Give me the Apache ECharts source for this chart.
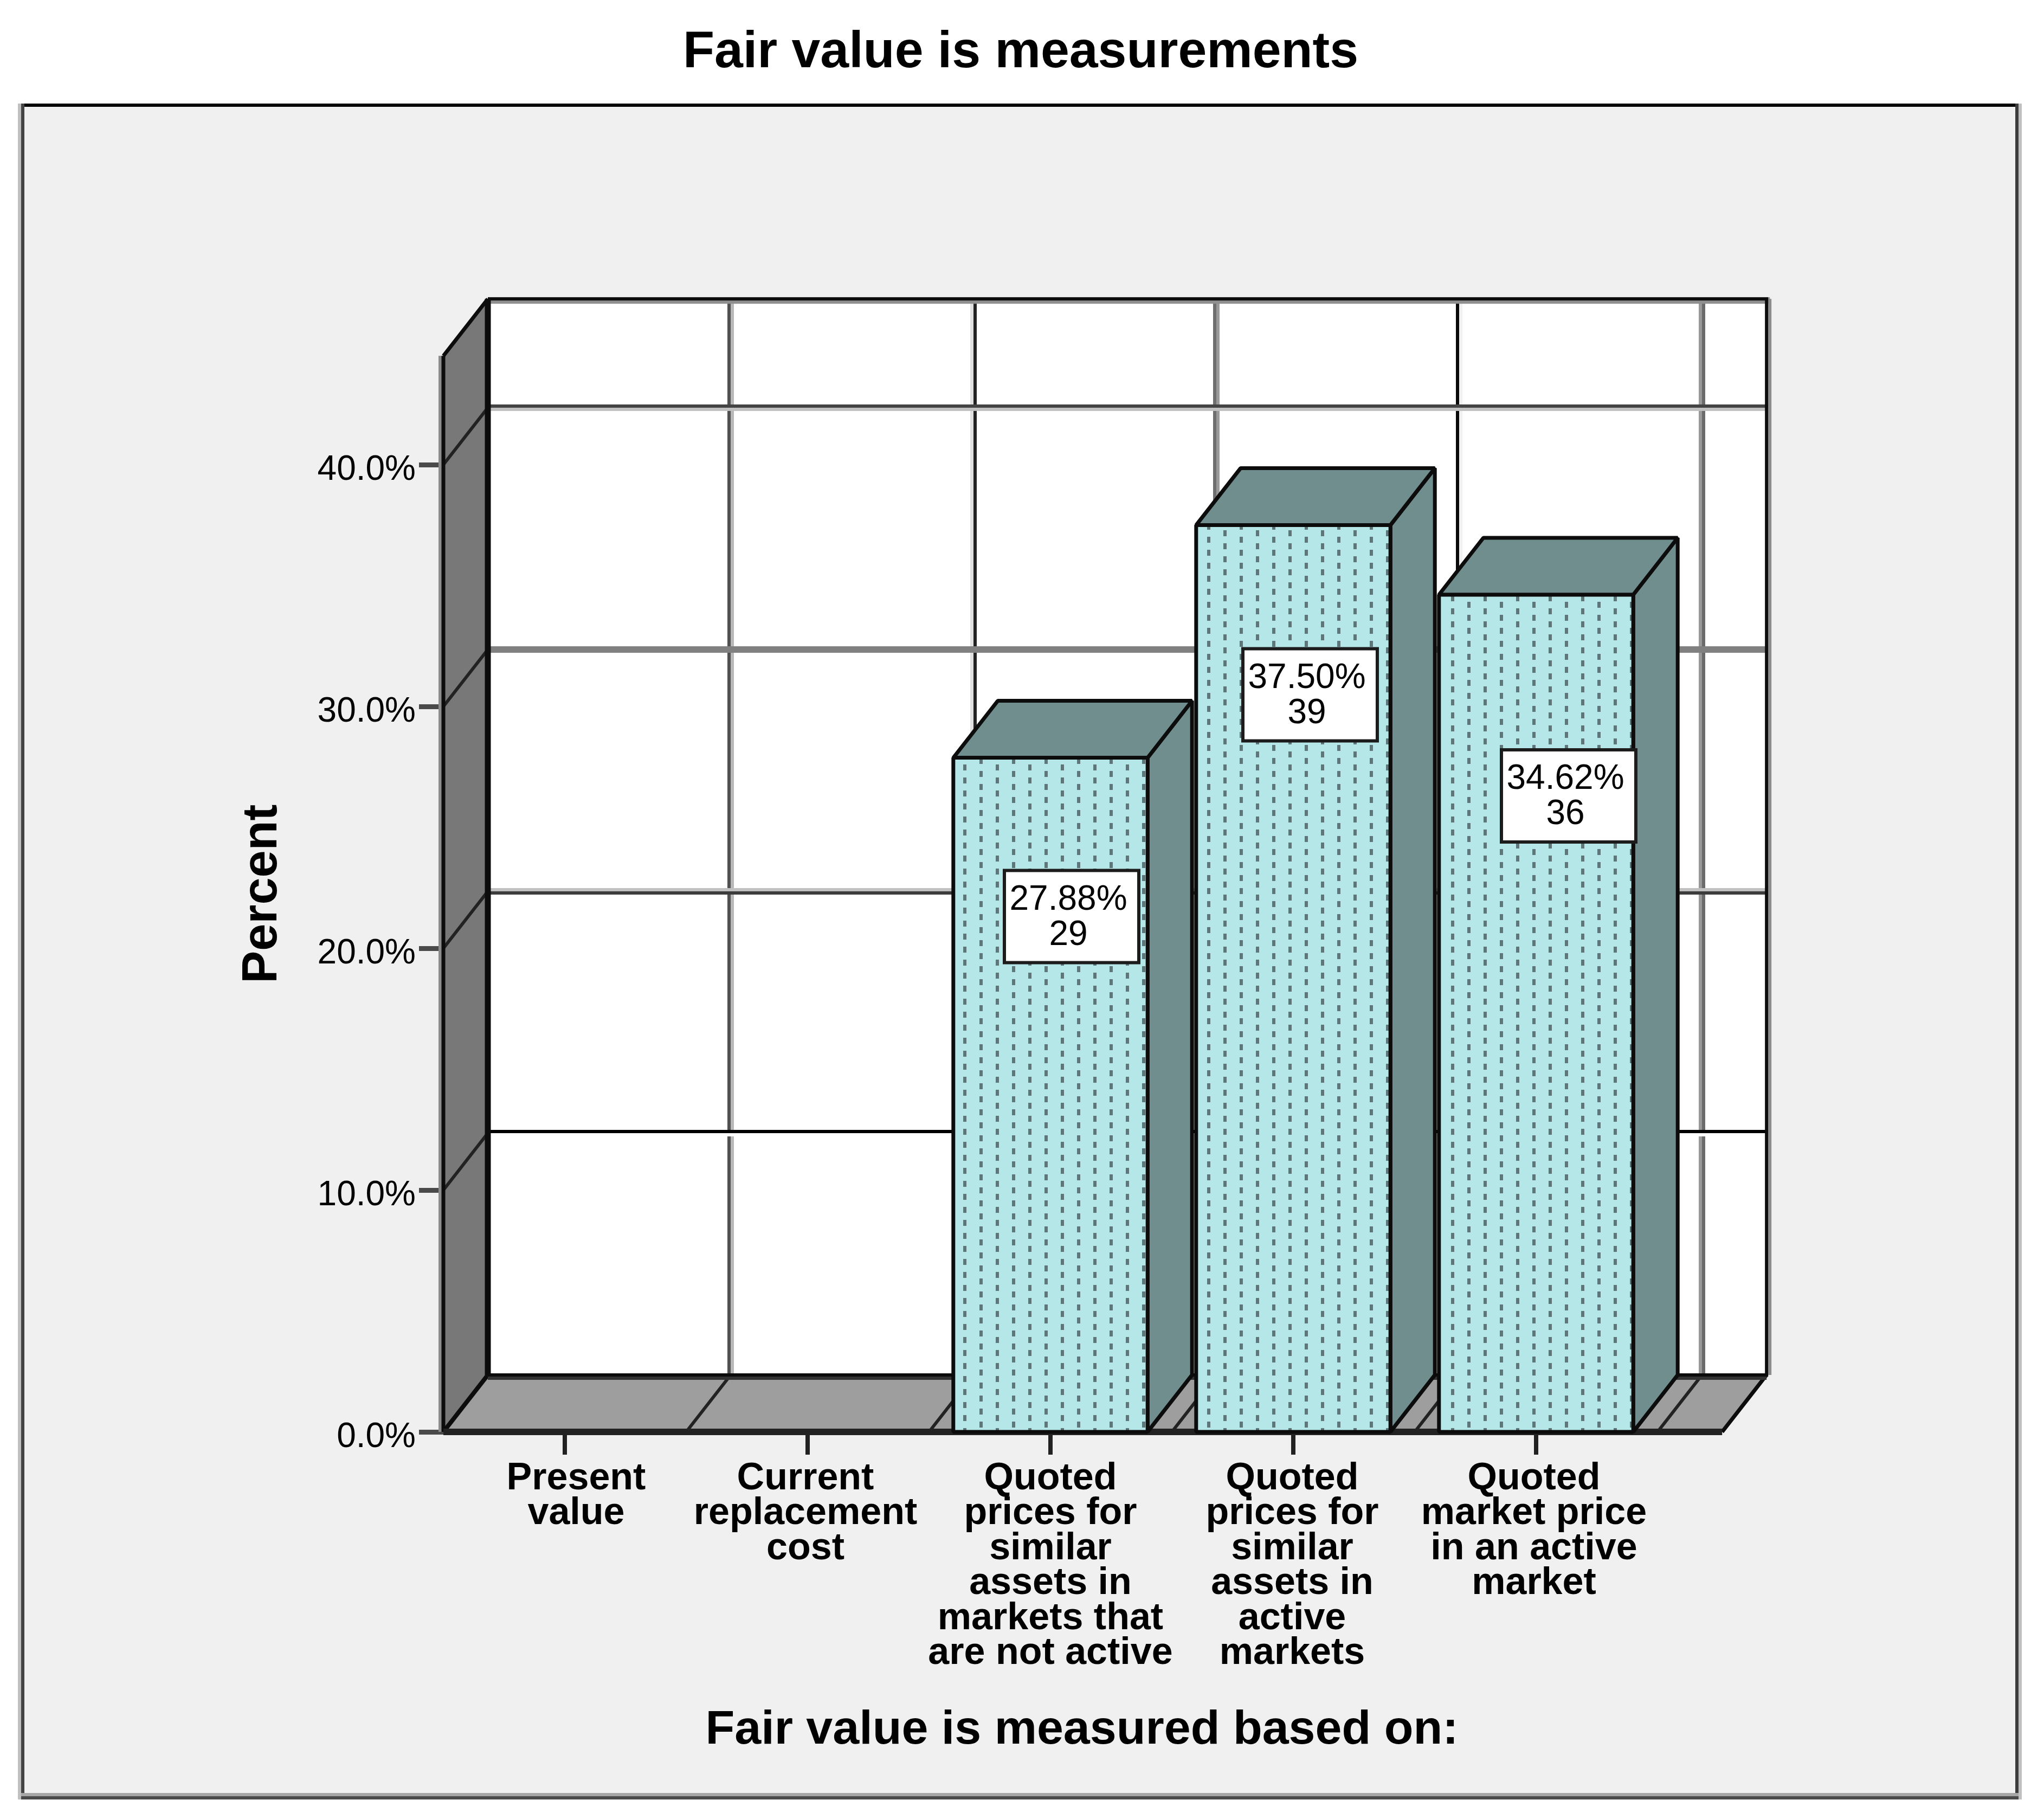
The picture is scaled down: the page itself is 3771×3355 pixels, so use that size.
<!DOCTYPE html>
<html>
<head>
<meta charset="utf-8">
<title>Fair value is measurements</title>
<script src="https://cdn.jsdelivr.net/npm/echarts@6/dist/echarts.min.js"></script>
<style>html,body{margin:0;padding:0;background:#fff}#c{width:3771px;height:3355px}</style>
</head>
<body>
<div id="c"></div>
<script>
// ---------- data ----------
const categories = [
  'Present\nvalue',
  'Current\nreplacement\ncost',
  'Quoted\nprices for\nsimilar\nassets in\nmarkets that\nare not active',
  'Quoted\nprices for\nsimilar\nassets in\nactive\nmarkets',
  'Quoted\nmarket price\nin an active\nmarket'
];
const percents = [0, 0, 27.88, 37.50, 34.62];
const counts = [0, 0, 29, 39, 36];
const yTicks = [0, 10, 20, 30, 40];
const chartTitle = 'Fair value is measurements';
const xAxisTitle = 'Fair value is measured based on:';
const yAxisTitle = 'Percent';

// ---------- layout and style ----------
const yMax = 44.5;
const DX = 82, DY = -105;          // depth of the pseudo 3D box
const tailBands = 0.266;           // the floor runs on past the last band
const barShare = 0.8;
const labelOffsets = {2: [39, 293], 3: [31, 313], 4: [60, 371]};
const xLabelPadding = [[0, 0, 0, 42], [0, 8, 0, 0], [0, 0, 0, 0], [0, 4, 0, 0], [0, 8, 0, 0]];
const hTones = {10: ['#000', '#fff'], 20: ['#c0c0c0', '#3c3c3c'], 30: ['#808080', '#808080'], 40: ['#444', '#c0c0c0']};
const vTones = [['#505050', '#b8b8b8'], ['#e0e0e0', '#222'], ['#6e6e6e', '#999'], ['#0a0a0a', '#f0f0f0'], ['#999', '#6a6a6a']];
const INK = '#0c0c0c', TEAL = '#718e8e';
const FONT = '"Liberation Sans", Arial, sans-serif';

function dotTile() {
  const t = document.createElement('canvas');
  t.width = 60; t.height = 24;
  const g = t.getContext('2d');
  g.fillStyle = '#b6e7e8'; g.fillRect(0, 0, 60, 24);
  g.fillStyle = '#5f7678';
  g.fillRect(7, 6, 6, 11);
  g.fillRect(37, 18, 6, 6); g.fillRect(37, 0, 6, 5);
  return t;
}
const tile = dotTile();

function seg(x1, y1, x2, y2, color, width) {
  return {type: 'line', shape: {x1, y1, x2, y2}, style: {stroke: color, lineWidth: width, fill: null}};
}
function poly(points, fill, stroke, width) {
  return {type: 'polygon', shape: {points}, style: {fill, stroke: stroke || null, lineWidth: width || 0, lineJoin: 'bevel'}};
}

function renderFrame(params, api) {
  const base = api.coord([0, 0]);
  const band = api.size([1, 0])[0];
  const x0 = base[0] - band / 2, y0 = base[1];
  const yTop = api.coord([0, yMax])[1];
  const xEnd = x0 + band * (categories.length + tailBands);
  const bx0 = x0 + DX, bx1 = xEnd + DX, by0 = y0 + DY, byT = yTop + DY;
  const c = [];
  c.push(poly([[bx0, byT], [bx1, byT], [bx1, by0], [bx0, by0]], '#fff'));
  c.push(poly([[x0, y0], [bx0, by0], [bx0, byT], [x0, yTop]], '#787878'));
  c.push(poly([[x0, y0], [bx0, by0], [bx1, by0], [xEnd, y0]], '#9e9e9e'));
  // vertical grid on the back wall and its diagonal on the floor
  for (let i = 1; i <= categories.length; i++) {
    const x = x0 + band * i;
    c.push(seg(x, y0, x + DX, by0, '#222', 6));
    const tone = vTones[i - 1];
    c.push(seg(x + DX - 3, byT, x + DX - 3, by0, tone[0], 6));
    c.push(seg(x + DX + 3, byT, x + DX + 3, by0, tone[1], 6));
  }
  // horizontal grid on the back wall and its diagonal on the side wall
  yTicks.forEach(function (t) {
    if (!t) return;
    const y = api.coord([0, t])[1];
    c.push(seg(x0, y, bx0, y + DY, '#222', 6));
    const tone = hTones[t];
    c.push(seg(bx0, y + DY - 3, bx1, y + DY - 3, tone[0], 6));
    c.push(seg(bx0, y + DY + 3, bx1, y + DY + 3, tone[1], 6));
  });
  // box outline
  c.push(seg(bx0, byT + 3, bx1 + 6, byT + 3, '#8f8f8f', 12));
  c.push(seg(bx0, byT, bx1 + 3, byT, INK, 6));
  c.push(seg(bx1 + 6, byT, bx1 + 6, by0, '#8c8c8c', 6));
  c.push(seg(bx1, byT, bx1, by0 + 3, INK, 6));
  c.push(seg(bx0, byT, bx0, by0, INK, 11));
  c.push(seg(x0 - 6, yTop, x0 - 6, y0, '#8c8c8c', 6));
  c.push(seg(x0, yTop, x0, y0, INK, 7));
  c.push(seg(x0, yTop, bx0, byT, INK, 7));
  c.push(seg(x0, y0, bx0, by0, INK, 8));
  c.push(seg(xEnd, y0, bx1, by0, INK, 7));
  c.push(seg(bx0, by0 + 3, bx1, by0 + 3, '#333', 12));
  c.push(seg(bx0, by0, bx1, by0, INK, 6));
  c.push(seg(x0, y0, xEnd, y0, '#222', 12));
  return {type: 'group', children: c};
}

function renderBar(params, api) {
  const idx = api.value(0), pct = api.value(1), n = api.value(2);
  if (!pct) return null;
  const top = api.coord([idx, pct]);
  const base = api.coord([idx, 0]);
  const w = api.size([1, 0])[0] * barShare;
  const xL = top[0] - w / 2, xR = top[0] + w / 2, yT = top[1], yB = base[1];
  const off = labelOffsets[idx];
  const cx = top[0] + off[0], cy = yT + off[1];
  const boxW = 248, boxH = 170;
  return {type: 'group', children: [
    poly([[xR, yB], [xR + DX, yB + DY], [xR + DX, yT + DY], [xR, yT]], TEAL, INK, 7),
    poly([[xL, yT], [xL + DX, yT + DY], [xR + DX, yT + DY], [xR, yT]], TEAL, INK, 7),
    poly([[xL, yB], [xL, yT], [xR, yT], [xR, yB]], {image: tile, repeat: 'repeat'}, INK, 7),
    {type: 'rect', shape: {x: cx - boxW / 2, y: cy - boxH / 2, width: boxW, height: boxH},
      style: {fill: '#fff', stroke: '#1c1c1c', lineWidth: 6}},
    {type: 'text', style: {x: cx - 6, y: cy + 2, text: pct.toFixed(2) + '%\n' + n, align: 'center', verticalAlign: 'middle',
      font: '64px ' + FONT, lineHeight: 65, fill: '#000'}}
  ]};
}

const panelEdges = [
  {x: 39, y: 191, w: 3685, h: 6, c: '#000'},
  {x: 33, y: 191, w: 6, h: 3128, c: '#c0c0c0'},
  {x: 39, y: 191, w: 6, h: 3128, c: '#444'},
  {x: 3718, y: 191, w: 6, h: 3128, c: '#3c3c3c'},
  {x: 3724, y: 191, w: 6, h: 3128, c: '#c0c0c0'},
  {x: 39, y: 3307, w: 3685, h: 6, c: '#a6a6a6'},
  {x: 39, y: 3313, w: 3685, h: 6, c: '#4a4a4a'}
];

const chart = echarts.init(document.getElementById('c'));
chart.setOption({
  animation: false,
  backgroundColor: '#fff',
  graphic: [{type: 'rect', z: -10, silent: true, shape: {x: 39, y: 191, width: 3685, height: 3128}, style: {fill: '#f0f0f0'}}]
    .concat(panelEdges.map(function (e) {
      return {type: 'rect', z: -9, silent: true, shape: {x: e.x, y: e.y, width: e.w, height: e.h}, style: {fill: e.c}};
    })),
  title: {
    text: chartTitle, left: 1878, top: 45, textAlign: 'center',
    textStyle: {fontFamily: FONT, fontSize: 95, fontWeight: 'bold', color: '#000'}
  },
  grid: {left: 818, width: 2240, bottom: 714, height: 1984.7, containLabel: false},
  xAxis: {
    type: 'category',
    data: categories.map(function (c, i) { return {value: c, textStyle: {padding: xLabelPadding[i]}}; }),
    name: xAxisTitle, nameLocation: 'middle', nameGap: 507,
    nameTextStyle: {fontFamily: FONT, fontSize: 88, fontWeight: 'bold', color: '#000', padding: [0, 0, 0, 116]},
    axisLine: {show: false},
    axisTick: {show: true, alignWithLabel: true, length: 42, lineStyle: {color: '#222', width: 8}},
    axisLabel: {interval: 0, margin: 54, fontFamily: FONT, fontSize: 70, fontWeight: 'bold', color: '#000', lineHeight: 64.5, align: 'center'},
    splitLine: {show: false}
  },
  yAxis: {
    type: 'value', min: 0, max: yMax,
    name: yAxisTitle, nameLocation: 'middle', nameGap: 288, nameRotate: 90,
    nameTextStyle: {fontFamily: FONT, fontSize: 90, fontWeight: 'bold', color: '#000'},
    axisLine: {show: false},
    axisTick: {show: true, length: 45, customValues: yTicks, lineStyle: {color: '#4a4a4a', width: 9}},
    axisLabel: {
      customValues: yTicks, margin: 51, fontFamily: FONT, fontSize: 64, color: '#000',
      verticalAlign: 'top', lineHeight: 20,
      formatter: function (v) { return v.toFixed(1) + '%'; }
    },
    splitLine: {show: false}
  },
  series: [
    {type: 'custom', silent: true, z: 1, renderItem: renderFrame, data: [[0, 0]], encode: {x: 0, y: 1}},
    {type: 'custom', silent: true, z: 2, renderItem: renderBar,
      data: percents.map(function (p, i) { return [i, p, counts[i]]; }), encode: {x: 0, y: 1}}
  ]
});
</script>
</body>
</html>
